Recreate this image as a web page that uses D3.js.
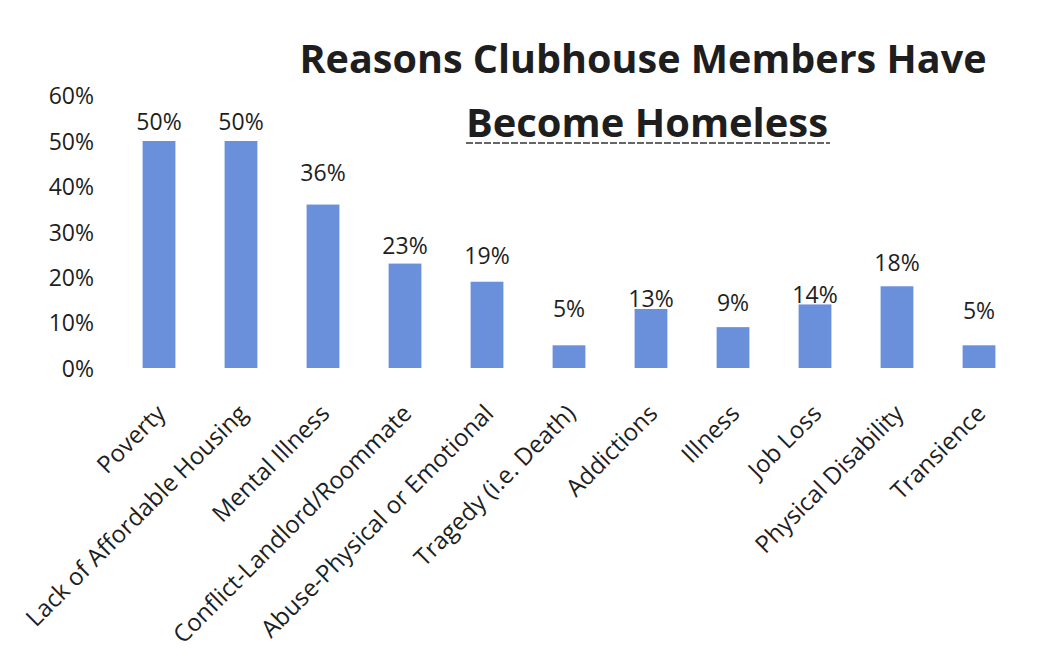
<!DOCTYPE html>
<html>
<head>
<meta charset="utf-8">
<script src="https://cdn.jsdelivr.net/npm/d3@7"></script>
<style>
    body { margin: 0; background: #fff; }
    svg text { font-family: "Open Sans", "Noto Sans", sans-serif; fill: #1e1e1e; }
</style>
</head>
<body>
<div id="chart"></div>
<script>
// Chart data
const categories = [
    'Poverty', 'Lack of Affordable Housing', 'Mental Illness', 'Conflict-Landlord/Roommate',
    'Abuse-Physical or Emotional', 'Tragedy (i.e. Death)', 'Addictions', 'Illness',
    'Job Loss', 'Physical Disability', 'Transience'
];
const shares = [0.50, 0.50, 0.36, 0.23, 0.19, 0.05, 0.13, 0.09, 0.14, 0.18, 0.05];
const yTicks = [0, 0.1, 0.2, 0.3, 0.4, 0.5, 0.6];
const titleLines = ['Reasons Clubhouse Members Have', 'Become Homeless'];

// Label lift above each bar top (the labels were hand-placed in the original)
const labelLift = [19, 19, 32, 18, 26, 36, 10, 24, 9, 23, 34];

const W = 1043, H = 664;
const barColor = '#6a90dc';

const svg = d3.select('#chart')
    .append('svg')
    .attr('width', W)
    .attr('height', H);

const x = d3.scaleBand()
    .domain(categories)
    .range([118, 1020])
    .paddingInner(0.6)
    .paddingOuter(0.3);

const y = d3.scaleLinear()
    .domain([0, 0.6])
    .range([368, 95.6]);

const pct = d3.format('.0%');

// Y axis (labels only)
const yAxis = svg.append('g')
    .attr('transform', 'translate(94,0)')
    .call(d3.axisLeft(y).tickValues(yTicks).tickFormat(pct).tickSize(0).tickPadding(0));
yAxis.select('.domain').remove();
yAxis.selectAll('text')
    .style('font-size', '23px')
    .attr('dy', '0.36em');

// Bars
svg.selectAll('rect.bar')
    .data(shares)
    .enter()
    .append('rect')
    .attr('class', 'bar')
    .attr('x', (d, i) => x(categories[i]))
    .attr('y', d => y(d))
    .attr('width', x.bandwidth())
    .attr('height', d => y(0) - y(d))
    .attr('fill', barColor);

// Value labels
svg.selectAll('text.value')
    .data(shares)
    .enter()
    .append('text')
    .attr('class', 'value')
    .attr('text-anchor', 'middle')
    .attr('x', (d, i) => x(categories[i]) + x.bandwidth() / 2)
    .attr('y', (d, i) => y(d) - labelLift[i] + 8)
    .style('font-size', '23px')
    .text(d => pct(d));

// X axis labels, rotated
const xAxis = svg.append('g')
    .attr('transform', `translate(8,${y(0) + 47})`)
    .call(d3.axisBottom(x).tickSize(0).tickPadding(0));
xAxis.select('.domain').remove();
xAxis.selectAll('text')
    .attr('y', 0)
    .attr('dy', 0)
    .attr('text-anchor', 'end')
    .attr('transform', 'rotate(-45)')
    .style('font-size', '24px');

// Title
const title = svg.append('g').attr('class', 'title');
title.append('text')
    .attr('x', 643)
    .attr('y', 73)
    .attr('text-anchor', 'middle')
    .attr('textLength', 687)
    .attr('lengthAdjust', 'spacingAndGlyphs')
    .style('font-size', '39px')
    .style('font-weight', 'bold')
    .text(titleLines[0]);
title.append('text')
    .attr('x', 647)
    .attr('y', 137)
    .attr('text-anchor', 'middle')
    .attr('textLength', 362)
    .attr('lengthAdjust', 'spacingAndGlyphs')
    .style('font-size', '39px')
    .style('font-weight', 'bold')
    .text(titleLines[1]);
title.append('line')
    .attr('x1', 466)
    .attr('x2', 830)
    .attr('y1', 143)
    .attr('y2', 143)
    .style('stroke', '#666')
    .style('stroke-width', 2)
    .style('stroke-dasharray', '7,2');
</script>
</body>
</html>
